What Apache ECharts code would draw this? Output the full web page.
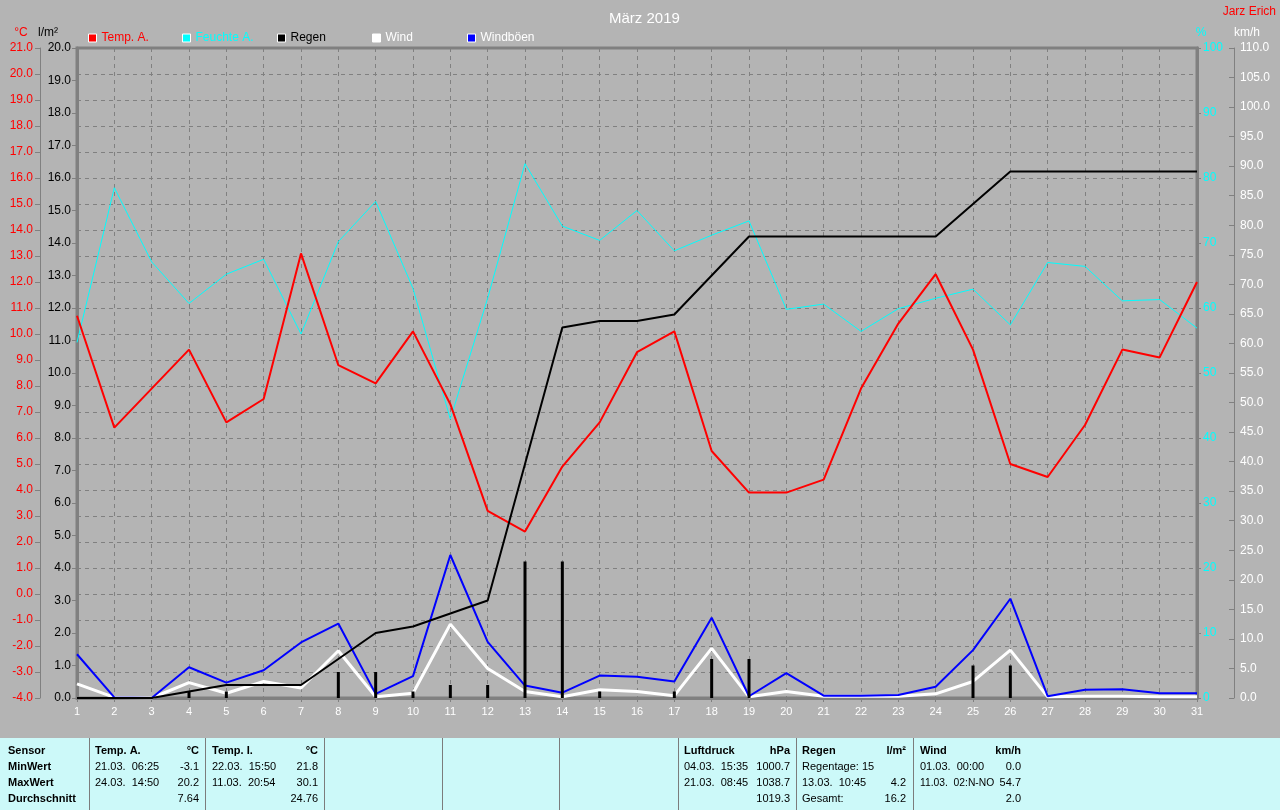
<!DOCTYPE html>
<html>
<head>
<meta charset="utf-8">
<script src="https://cdn.jsdelivr.net/npm/echarts@6/dist/echarts.min.js"></script>
<style>
html,body{margin:0;padding:0;background:#b4b4b4;}
#c{width:1280px;height:810px;}
</style>
</head>
<body>
<div id="c"></div>
<script>
// ---- data ----
const days = ['1','2','3','4','5','6','7','8','9','10','11','12','13','14','15','16','17','18','19','20','21','22','23','24','25','26','27','28','29','30','31'];
const tempA = [10.7, 6.4, 7.9, 9.4, 6.6, 7.5, 13.1, 8.8, 8.1, 10.1, 7.3, 3.2, 2.4, 4.9, 6.6, 9.3, 10.1, 5.5, 3.9, 3.9, 4.4, 7.9, 10.4, 12.3, 9.4, 5.0, 4.5, 6.5, 9.4, 9.1, 12.0];
const feuchteA = [54.7, 78.5, 67.1, 60.7, 65.2, 67.5, 56.0, 70.2, 76.4, 63.0, 42.9, 61.5, 82.2, 72.6, 70.4, 75.0, 68.8, 71.2, 73.4, 59.8, 60.6, 56.4, 59.9, 61.5, 62.9, 57.4, 67.0, 66.4, 61.1, 61.3, 56.9];
const regenSumme = [0, 0, 0, 0.2, 0.4, 0.4, 0.4, 1.2, 2.0, 2.2, 2.6, 3.0, 7.2, 11.4, 11.6, 11.6, 11.8, 13.0, 14.2, 14.2, 14.2, 14.2, 14.2, 14.2, 15.2, 16.2, 16.2, 16.2, 16.2, 16.2, 16.2];
const regenTag = [0, 0, 0, 0.2, 0.2, 0, 0, 0.8, 0.8, 0.2, 0.4, 0.4, 4.2, 4.2, 0.2, 0, 0.2, 1.2, 1.2, 0, 0, 0, 0, 0, 1.0, 1.0, 0, 0, 0, 0, 0];
const wind = [2.4, 0.1, 0, 2.6, 0.8, 2.8, 1.7, 8.0, 0.2, 0.8, 12.5, 5.0, 1.1, 0.2, 1.4, 1.1, 0.4, 8.4, 0.2, 1.1, 0.3, 0.3, 0.3, 0.7, 2.8, 8.1, 0.2, 0.3, 0.3, 0.2, 0.2];
const windBoeen = [7.4, 0.1, 0, 5.2, 2.6, 4.7, 9.4, 12.6, 0.7, 3.7, 24.2, 9.5, 2.1, 0.9, 3.8, 3.6, 2.8, 13.6, 0.3, 4.2, 0.4, 0.4, 0.5, 1.9, 8.1, 16.8, 0.3, 1.4, 1.5, 0.8, 0.8];

const legendNames = ['Temp. A.', 'Feuchte A.', 'Regen', 'Wind', 'Windböen'];
const legendTextColors = ['#ff0000', '#00ffff', '#000000', '#ffffff', '#ffffff'];
const legendLeft = [88, 182, 277, 372, 467];

// table contents: [header, row1, row2, row3] as [leftText, rightText]
const tableRowLabels = ['Sensor', 'MinWert', 'MaxWert', 'Durchschnitt'];
const tableTempA = [['Temp. A.', '°C'], ['21.03.  06:25', '-3.1'], ['24.03.  14:50', '20.2'], ['', '7.64']];
const tableTempI = [['Temp. I.', '°C'], ['22.03.  15:50', '21.8'], ['11.03.  20:54', '30.1'], ['', '24.76']];
const tableLuft = [['Luftdruck', 'hPa'], ['04.03.  15:35', '1000.7'], ['21.03.  08:45', '1038.7'], ['', '1019.3']];
const tableRegen = [['Regen', 'l/m²'], ['Regentage: 15', ''], ['13.03.  10:45', '4.2'], ['Gesamt:', '16.2']];
const tableWind = [['Wind', 'km/h'], ['01.03.  00:00', '0.0'], ['11.03.  02:N-NO', '54.7'], ['', '2.0']];

// ---- layout ----
const FONT = '"Liberation Sans", Arial, sans-serif';
const GRIDC = '#808080';
const PL = 77, PR = 1197, PT = 48, PB = 698;

function txt(text, x, y, opts) {
  opts = opts || {};
  const align = opts.align || 'left';
  return {
    type: 'text', silent: true, z: 100,
    style: {
      text: text, x: x, y: y,
      align: align, textAlign: align,
      verticalAlign: 'middle', textVerticalAlign: 'middle',
      font: (opts.bold ? 'bold ' : '') + (opts.size || 11) + 'px ' + FONT,
      fill: opts.color || '#000000'
    }
  };
}

const graphics = [];
// units & author
graphics.push(txt('°C', 21, 33, {align: 'center', color: '#ff0000', size: 12}));
graphics.push(txt('l/m²', 48, 33, {align: 'center', color: '#000000', size: 12}));
graphics.push(txt('%', 1201, 33, {align: 'center', color: '#00ffff', size: 12}));
graphics.push(txt('km/h', 1247, 33, {align: 'center', color: '#ffffff', size: 12}));
graphics.push(txt('Jarz Erich', 1276, 12, {align: 'right', color: '#ff0000', size: 12}));

// table
graphics.push({type: 'rect', silent: true, z: 90, shape: {x: 0, y: 738, width: 1280, height: 72}, style: {fill: '#ccf9f9'}});
[89, 205, 324, 442, 559, 678, 796, 913].forEach(function (x) {
  graphics.push({type: 'line', silent: true, z: 95, shape: {x1: x + 0.5, y1: 738, x2: x + 0.5, y2: 810}, style: {stroke: '#7c7c7c', lineWidth: 1}});
});
const rowY = [751, 767, 783, 799];
tableRowLabels.forEach(function (t, i) { graphics.push(txt(t, 8, rowY[i], {bold: true})); });
function addCol(data, xl, xr) {
  data.forEach(function (r, i) {
    const long = r[0].length > 14;
    if (r[0]) graphics.push(txt(r[0], xl, rowY[i], {bold: i === 0, size: long ? 10.3 : 11}));
    if (r[1]) graphics.push(txt(r[1], xr, rowY[i], {bold: i === 0, align: 'right'}));
  });
}
addCol(tableTempA, 95, 199);
addCol(tableTempI, 212, 318);
addCol(tableLuft, 684, 790);
addCol(tableRegen, 802, 906);
addCol(tableWind, 920, 1021);

const chart = echarts.init(document.getElementById('c'), null, {renderer: 'canvas'});
const option = {
  backgroundColor: '#b4b4b4',
  animation: false,
  textStyle: {fontFamily: FONT},
  title: {
    text: 'März 2019', left: 604, top: 6,
    textStyle: {color: '#ffffff', fontSize: 15, fontWeight: 'normal', fontFamily: FONT}
  },
  legend: legendNames.map(function (n, i) {
    return {
      data: [n], left: legendLeft[i], top: 32, padding: 0,
      itemWidth: 8, itemHeight: 8, icon: 'rect', selectedMode: false,
      itemStyle: {borderColor: '#ffffff', borderWidth: 1},
      textStyle: {color: legendTextColors[i], fontSize: 12, fontFamily: FONT}
    };
  }),
  grid: {
    left: PL, right: 1280 - PR, top: PT, bottom: 810 - PB,
    show: true, borderColor: GRIDC, borderWidth: 3, backgroundColor: 'transparent'
  },
  xAxis: {
    type: 'category', data: days, boundaryGap: false,
    axisLine: {show: true, onZero: false, lineStyle: {color: GRIDC, width: 3}},
    axisTick: {show: true, length: 4, lineStyle: {color: GRIDC}},
    axisLabel: {color: '#ffffff', fontSize: 11, margin: 8, interval: 0},
    splitLine: {show: true, lineStyle: {color: GRIDC, width: 1, type: [4, 4]}}
  },
  yAxis: [
    {
      type: 'value', min: -4, max: 21, interval: 1, position: 'left', offset: 37,
      axisLine: {show: true, lineStyle: {color: GRIDC, width: 1}},
      axisTick: {show: true, length: 5, lineStyle: {color: GRIDC}},
      axisLabel: {color: '#ff0000', fontSize: 12, margin: 7, formatter: function (v) { return v.toFixed(1); }},
      splitLine: {show: true, lineStyle: {color: GRIDC, width: 1, type: [4, 4]}}
    },
    {
      type: 'value', min: 0, max: 20, interval: 1, position: 'left', offset: 0,
      axisLine: {show: true, lineStyle: {color: GRIDC, width: 3}},
      axisTick: {show: true, length: 5, lineStyle: {color: GRIDC}},
      axisLabel: {color: '#000000', fontSize: 12, margin: 6, formatter: function (v) { return v.toFixed(1); }},
      splitLine: {show: false}
    },
    {
      type: 'value', min: 0, max: 100, interval: 10, position: 'right', offset: 0,
      axisLine: {show: true, lineStyle: {color: GRIDC, width: 3}},
      axisTick: {show: true, length: 4, lineStyle: {color: GRIDC}},
      axisLabel: {color: '#00ffff', fontSize: 12, margin: 6},
      splitLine: {show: false}
    },
    {
      type: 'value', min: 0, max: 110, interval: 5, position: 'right', offset: 37,
      axisLine: {show: true, lineStyle: {color: GRIDC, width: 1}},
      axisTick: {show: true, inside: true, length: 5, lineStyle: {color: GRIDC}},
      axisLabel: {color: '#ffffff', fontSize: 12, margin: 6, formatter: function (v) { return v.toFixed(1); }},
      splitLine: {show: false}
    }
  ],
  series: [
    {name: 'Feuchte A.', type: 'line', yAxisIndex: 2, data: feuchteA, symbol: 'none',
      lineStyle: {color: '#00ffff', width: 1}, itemStyle: {color: '#00ffff'}, z: 2},
    {name: 'Temp. A.', type: 'line', yAxisIndex: 0, data: tempA, symbol: 'none',
      lineStyle: {color: '#ff0000', width: 2}, itemStyle: {color: '#ff0000'}, z: 3},
    {name: 'Wind', type: 'line', yAxisIndex: 3, data: wind, symbol: 'none',
      lineStyle: {color: '#ffffff', width: 3}, itemStyle: {color: '#ffffff'}, z: 3},
    {name: 'Windböen', type: 'line', yAxisIndex: 3, data: windBoeen, symbol: 'none',
      lineStyle: {color: '#0000ff', width: 2}, itemStyle: {color: '#0000ff'}, z: 4},
    {name: 'Regen', type: 'line', yAxisIndex: 1, data: regenSumme, symbol: 'none',
      lineStyle: {color: '#000000', width: 2}, itemStyle: {color: '#000000'}, z: 5},
    {name: 'Regen/Tag', type: 'bar', yAxisIndex: 1, data: regenTag, barWidth: 3,
      itemStyle: {color: '#000000'}, z: 6}
  ],
  graphic: graphics
};
chart.setOption(option);
</script>
</body>
</html>
